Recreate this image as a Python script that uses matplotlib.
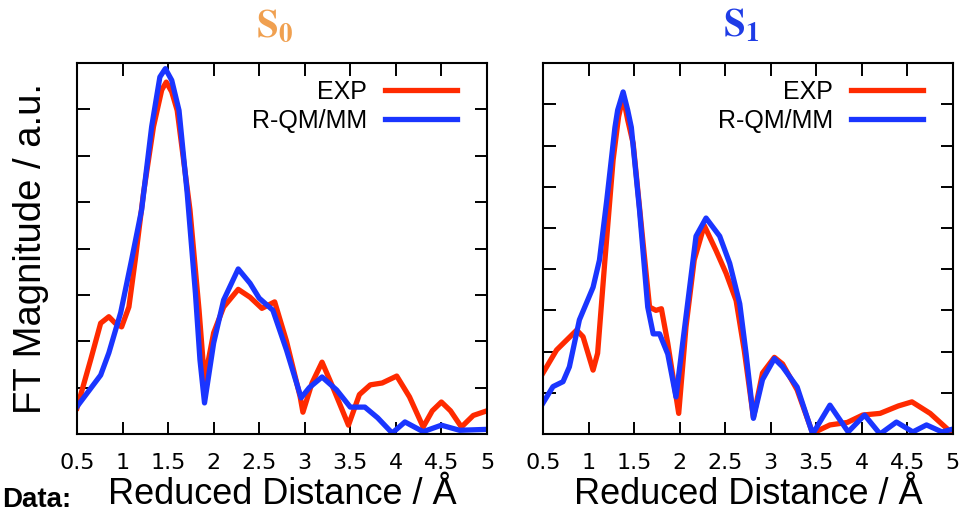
import matplotlib.pyplot as plt

plt.rcParams['font.family'] = ['Liberation Sans', 'DejaVu Sans']
plt.rcParams['mathtext.fontset'] = 'stix'

# S0 panel
s0_exp_x = [0.5, 0.65, 0.76, 0.85, 0.92, 0.99, 1.07, 1.14, 1.23, 1.34, 1.43, 1.48, 1.54, 1.60, 1.74,
            1.84, 1.90, 2.0, 2.11, 2.27, 2.40, 2.53, 2.67, 2.80, 2.95, 2.98, 3.08, 3.19, 3.30, 3.48,
            3.60, 3.72, 3.85, 4.01, 4.15, 4.30, 4.40, 4.50, 4.60, 4.72, 4.85, 5.0]
s0_exp_y = [0.56, 1.6, 2.39, 2.53, 2.39, 2.31, 2.74, 3.76, 5.19, 6.63, 7.42, 7.59, 7.38, 6.98, 4.84,
            2.67, 1.16, 2.18, 2.74, 3.12, 2.95, 2.71, 2.85, 2.0, 0.8, 0.47, 1.1, 1.55, 1.05, 0.19,
            0.85, 1.06, 1.1, 1.25, 0.8, 0.15, 0.5, 0.69, 0.5, 0.15, 0.4, 0.5]
s0_qm_x = [0.5, 0.76, 0.85, 0.98, 1.10, 1.21, 1.32, 1.41, 1.47, 1.54, 1.62, 1.71, 1.80, 1.85, 1.90,
           2.0, 2.11, 2.27, 2.40, 2.50, 2.65, 2.80, 2.96, 3.05, 3.19, 3.35, 3.50, 3.66, 3.80, 3.96,
           4.10, 4.30, 4.50, 4.70, 5.0]
s0_qm_y = [0.59, 1.27, 1.75, 2.62, 3.76, 4.84, 6.63, 7.7, 7.88, 7.63, 6.98, 5.19, 3.04, 1.6, 0.67,
           1.96, 2.89, 3.56, 3.25, 2.93, 2.67, 1.81, 0.78, 1.0, 1.23, 0.95, 0.58, 0.58, 0.35, 0.02,
           0.26, 0.05, 0.19, 0.08, 0.1]

# S1 panel
s1_exp_x = [0.5, 0.65, 0.87, 0.94, 1.05, 1.10, 1.18, 1.27, 1.33, 1.38, 1.43, 1.49, 1.60, 1.67, 1.74,
            1.80, 1.87, 1.99, 2.07, 2.16, 2.27, 2.40, 2.51, 2.62, 2.71, 2.81, 2.91, 3.04, 3.13, 3.29,
            3.46, 3.65, 3.84, 4.01, 4.20, 4.40, 4.55, 4.75, 5.0]
s1_exp_y = [1.48, 2.04, 2.52, 2.36, 1.55, 1.96, 4.22, 6.65, 7.7, 8.18, 7.62, 7.05, 4.61, 3.08, 3.0,
            3.04, 2.2, 0.5, 2.6, 4.22, 5.06, 4.45, 3.9, 3.24, 2.02, 0.4, 1.48, 1.86, 1.7, 1.07,
            0.02, 0.22, 0.28, 0.46, 0.5, 0.68, 0.78, 0.5, 0.0]
s1_qm_x = [0.5, 0.61, 0.72, 0.79, 0.90, 1.05, 1.12, 1.20, 1.29, 1.32, 1.38, 1.43, 1.47, 1.56, 1.65,
           1.71, 1.78, 1.87, 1.96, 2.07, 2.18, 2.29, 2.44, 2.55, 2.66, 2.73, 2.81, 2.91, 3.04, 3.13,
           3.29, 3.46, 3.65, 3.85, 4.03, 4.20, 4.38, 4.56, 4.71, 4.88, 5.0]
s1_qm_y = [0.75, 1.15, 1.27, 1.63, 2.77, 3.56, 4.22, 5.67, 7.44, 7.86, 8.3, 7.86, 7.44, 5.43, 3.08,
           2.43, 2.43, 1.94, 0.9, 2.85, 4.8, 5.24, 4.8, 4.14, 3.16, 1.94, 0.38, 1.32, 1.83, 1.63,
           1.14, 0.0, 0.70, 0.05, 0.46, 0.0, 0.29, 0.05, 0.22, 0.05, 0.12]

xticks = [0.5, 1, 1.5, 2, 2.5, 3, 3.5, 4, 4.5, 5]
xticklabels = ['0.5', '1', '1.5', '2', '2.5', '3', '3.5', '4', '4.5', '5']

red = '#ff2a00'
blue = '#1a35ff'

fig = plt.figure(figsize=(9.61, 5.13), dpi=100)
ax1 = fig.add_axes([0.0801, 0.154, 0.4266, 0.723])
ax2 = fig.add_axes([0.565, 0.154, 0.4266, 0.723])

panels = [
    (ax1, s0_exp_x, s0_exp_y, s0_qm_x, s0_qm_y, 8),
    (ax2, s1_exp_x, s1_exp_y, s1_qm_x, s1_qm_y, 9),
]

for ax, ex, ey, qx, qy, ymax in panels:
    ax.plot(ex, ey, color=red, lw=3.8, solid_joinstyle='round', label='EXP')
    ax.plot(qx, qy, color=blue, lw=3.8, solid_joinstyle='round', label='R-QM/MM')
    ax.set_xlim(0.5, 5)
    ax.set_ylim(0, ymax)
    ax.set_xticks(xticks)
    ax.set_xticklabels(xticklabels, fontfamily='DejaVu Sans', fontsize=16)
    ax.set_yticks(range(ymax + 1))
    ax.set_yticklabels([])
    ax.tick_params(direction='in', length=9, width=1.4, top=True, right=True, pad=14)
    for sp in ax.spines.values():
        sp.set_linewidth(1.5)
    ax.set_xlabel('Reduced Distance / Å', fontsize=26)
    ax.xaxis.label.set_va('baseline')
    ax.xaxis.set_label_coords(0.5, -0.19)
    ax.legend(loc='upper right', frameon=False, markerfirst=False, fontsize=18,
              handlelength=2.9, handletextpad=0.7, labelspacing=0.2,
              bbox_to_anchor=(0.927, 0.955), borderaxespad=0, borderpad=0)

ax1.set_ylabel('FT Magnitude / a.u.', fontsize=27.5, labelpad=6)

fig.text(256 / 961, 0.928, r'$\mathbf{S}_\mathbf{0}$', color='#f0a050', fontsize=28,
         ha='left', va='baseline')
fig.text(723 / 961, 0.928, r'$\mathbf{S}_\mathbf{1}$', color='#1e3ce6', fontsize=28,
         ha='left', va='baseline')

fig.text(0.002, 0.012, 'Data:', fontsize=20, fontweight='bold', va='baseline', ha='left')

fig.savefig('out.png', dpi=100)
